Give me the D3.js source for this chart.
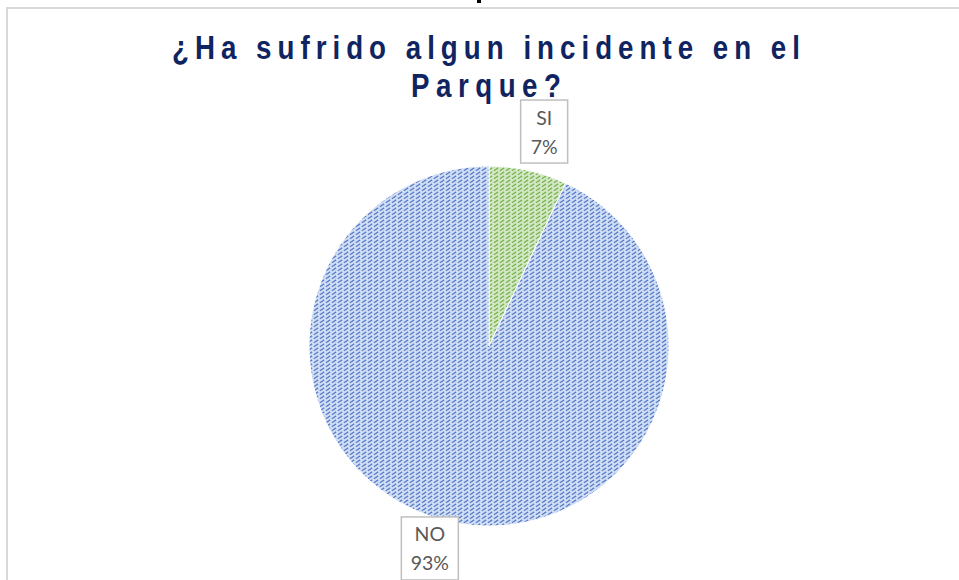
<!DOCTYPE html>
<html>
<head>
<meta charset="utf-8">
<script src="https://cdn.jsdelivr.net/npm/d3@7"></script>
<style>
  body { margin: 0; background: #fff; }
  svg { display: block; }
</style>
</head>
<body>
<div id="chart"></div>
<script>
// data
var categories = ["SI", "NO"];
var values = [7, 93];
var pctLabels = ["7%", "93%"];
var titleLines = ["¿Ha sufrido algun incidente en el", "Parque?"];
var titleWidths = [628, 150];

var width = 959, height = 580;
var cx = 489, cy = 346, radius = 180;
var squeeze = 0.84;

var svg = d3.select("#chart").append("svg")
    .attr("width", width)
    .attr("height", height);

// hatch patterns (wide upward diagonal)
var defs = svg.append("defs");
var fills = [
  {id: "hatch-si", bg: "#d3e9c6", fg: "#78b251"},
  {id: "hatch-no", bg: "#d0def6", fg: "#5a7cc6"}
];
fills.forEach(function(f) {
  var p = defs.append("pattern")
      .attr("id", f.id)
      .attr("patternUnits", "userSpaceOnUse")
      .attr("width", 6).attr("height", 4);
  p.append("rect").attr("width", 6).attr("height", 4).attr("fill", f.bg);
  p.append("path")
      .attr("d", "M-1,4.67 L7,-0.67 M-7,4.67 L1,-0.67 M5,4.67 L13,-0.67")
      .attr("stroke", f.fg)
      .attr("stroke-width", 1.3)
      .attr("stroke-dasharray", "5,2");
});

// clipped heading fragment at the very top of the page
svg.append("rect")
    .attr("x", 477).attr("y", 0)
    .attr("width", 4).attr("height", 3)
    .attr("fill", "#000");

// chart frame
svg.append("rect")
    .attr("x", 7).attr("y", 8)
    .attr("width", width + 10).attr("height", height + 10)
    .attr("fill", "none")
    .attr("stroke", "#d9d9d9")
    .attr("stroke-width", 2);

// pie
var data = categories.map((c, i) => ({cat: c, value: values[i], pct: pctLabels[i], fill: fills[i].id}));
var pie = d3.pie().sort(null).value(d => d.value);
var arc = d3.arc().innerRadius(0).outerRadius(radius);
var arcs = pie(data);

var g = svg.append("g").attr("transform", "translate(" + cx + "," + cy + ")");

g.selectAll("path")
    .data(arcs)
  .enter().append("path")
    .attr("d", arc)
    .attr("fill", d => "url(#" + d.data.fill + ")")
    .attr("stroke", "#ffffff")
    .attr("stroke-width", 1);

// title (condensed, letter spaced)
svg.append("g").selectAll("text")
    .data(titleLines)
  .enter().append("text")
    .attr("transform", (d, i) => "translate(486," + (59 + i * 38) + ") scale(" + squeeze + ",1)")
    .attr("text-anchor", "middle")
    .attr("font-family", "Liberation Sans")
    .attr("font-weight", "bold")
    .attr("font-size", 33)
    .attr("textLength", (d, i) => titleWidths[i] / squeeze)
    .attr("lengthAdjust", "spacing")
    .attr("fill", "#0f2460")
    .text(d => d);

// data labels
var labels = g.selectAll("g.label")
    .data(arcs)
  .enter().append("g")
    .attr("class", "label")
    .attr("transform", function(d) {
      var a = (d.startAngle + d.endAngle) / 2;
      return "translate(" + (Math.sin(a) * 262 - 2) + "," + (-Math.cos(a) * 213.6 - 6) + ")";
    });

labels.append("rect")
    .attr("x", d => d.data.cat === "NO" ? -28.5 : -23.5)
    .attr("y", -31.5)
    .attr("width", d => d.data.cat === "NO" ? 57 : 47)
    .attr("height", 63)
    .attr("fill", "#fff")
    .attr("stroke", "#bfbfbf")
    .attr("stroke-width", 1.5);

labels.append("text")
    .attr("text-anchor", "middle")
    .attr("y", -7)
    .attr("font-family", "Lato")
    .attr("font-size", 19.5)
    .attr("fill", "#595959")
    .text(d => d.data.cat);

labels.append("text")
    .attr("text-anchor", "middle")
    .attr("y", 22)
    .attr("font-family", "Lato")
    .attr("font-size", 19.5)
    .attr("fill", "#595959")
    .text(d => d.data.pct);
</script>
</body>
</html>
